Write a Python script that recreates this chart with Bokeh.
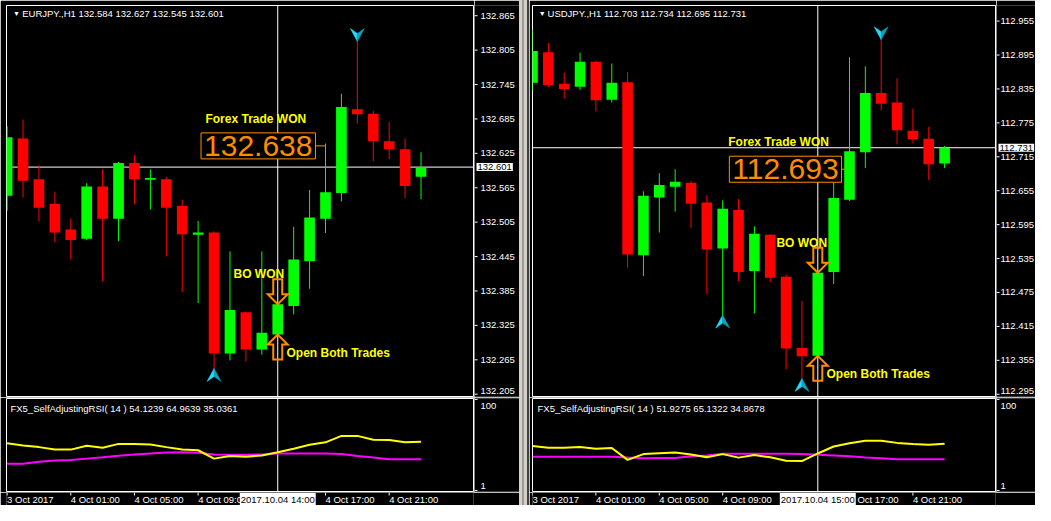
from bokeh.plotting import figure
from bokeh.models import Range1d, Label, Span, Div, ColumnDataSource
from bokeh.layouts import row, column
from bokeh.embed import file_html
from bokeh.resources import INLINE
from bokeh.core.properties import value

FONT = "Liberation Sans"
GREEN = "#00ff00"
RED = "#ff0000"
YELLOW = "#ffff00"
MAGENTA = "#ff00ff"
ORANGE = "#ff8c00"
CYAN = "#22ddff"
CYAN_DARK = "#0fa3bd"

bars = list(range(27))

# ---------------- EURJPY H1 ----------------
eur_open = [132.551, 132.651, 132.580, 132.537, 132.492, 132.476, 132.567, 132.511, 132.608,
            132.579, 132.580, 132.533, 132.483, 132.487, 132.276, 132.348, 132.283, 132.309,
            132.359, 132.437, 132.511, 132.556, 132.702, 132.694, 132.646, 132.632, 132.584]
eur_high = [132.672, 132.684, 132.604, 132.558, 132.511, 132.573, 132.597, 132.610, 132.622,
            132.597, 132.584, 132.544, 132.507, 132.489, 132.454, 132.349, 132.454, 132.363,
            132.497, 132.561, 132.642, 132.729, 132.820, 132.699, 132.680, 132.651, 132.627]
eur_low = [132.525, 132.548, 132.506, 132.470, 132.440, 132.474, 132.402, 132.472, 132.536,
           132.527, 132.445, 132.383, 132.364, 132.250, 132.264, 132.262, 132.274, 132.308,
           132.344, 132.389, 132.486, 132.541, 132.677, 132.611, 132.615, 132.547, 132.545]
eur_close = [132.653, 132.577, 132.530, 132.487, 132.474, 132.567, 132.511, 132.608, 132.580,
             132.582, 132.530, 132.484, 132.487, 132.276, 132.352, 132.283, 132.312, 132.362,
             132.440, 132.513, 132.557, 132.706, 132.693, 132.646, 132.632, 132.568, 132.601]
eur_rsi = [52.4, 50.0, 48.2, 45.5, 45.5, 49.6, 47.6, 51.7, 51.7, 51.0, 48.2, 45.5, 44.8, 35.7,
           38.5, 37.8, 39.2, 42.7, 46.5, 50.7, 53.4, 60.4, 60.4, 56.2, 55.9, 53.5, 54.1]
eur_rsi_lower = [30.2, 30.2, 32.3, 33.7, 34.3, 35.7, 37.1, 38.9, 40.3, 41.3, 42.3, 42.7, 42.0,
                 40.3, 39.9, 39.9, 40.3, 41.3, 41.3, 41.3, 41.3, 40.6, 38.5, 36.8, 35.0, 35.0, 35.0]
eur_price_ticks = [132.205, 132.265, 132.325, 132.385, 132.445, 132.505, 132.565, 132.625,
                   132.685, 132.745, 132.805, 132.865]
eur_up_signals = [13]
eur_down_signals = [22]

# ---------------- USDJPY H1 ----------------
usd_open = [112.846, 112.900, 112.844, 112.839, 112.883, 112.816, 112.847, 112.541, 112.643,
            112.662, 112.669, 112.634, 112.553, 112.621, 112.513, 112.577, 112.503, 112.377,
            112.363, 112.511, 112.639, 112.723, 112.828, 112.811, 112.761, 112.747, 112.703]
usd_high = [112.940, 112.916, 112.864, 112.899, 112.885, 112.880, 112.865, 112.654, 112.686,
            112.693, 112.672, 112.647, 112.638, 112.640, 112.592, 112.578, 112.507, 112.460,
            112.512, 112.698, 112.891, 112.875, 112.922, 112.854, 112.800, 112.768, 112.734]
usd_low = [112.832, 112.838, 112.818, 112.833, 112.795, 112.811, 112.519, 112.504, 112.581,
           112.618, 112.589, 112.472, 112.435, 112.495, 112.438, 112.493, 112.339, 112.323,
           112.362, 112.490, 112.637, 112.695, 112.797, 112.737, 112.739, 112.674, 112.695]
usd_close = [112.902, 112.842, 112.835, 112.883, 112.815, 112.846, 112.542, 112.646, 112.665,
             112.671, 112.632, 112.551, 112.623, 112.511, 112.579, 112.501, 112.376, 112.362,
             112.510, 112.642, 112.725, 112.828, 112.809, 112.762, 112.746, 112.702, 112.731]
usd_rsi = [49.3, 47.6, 47.6, 48.2, 46.5, 47.2, 34.3, 40.6, 41.6, 42.3, 40.3, 37.1, 40.6, 36.8,
           39.6, 37.1, 33.3, 33.0, 41.3, 48.9, 52.4, 55.2, 55.2, 52.8, 51.7, 50.7, 51.9]
usd_rsi_lower = [37.8, 37.8, 37.8, 37.8, 37.8, 37.8, 36.8, 36.1, 36.4, 36.4, 38.2, 39.2, 40.9,
                 40.9, 40.9, 40.9, 40.9, 40.6, 39.9, 39.2, 38.2, 36.8, 36.1, 35.0, 35.0, 34.9, 34.9]
usd_price_ticks = [112.295, 112.355, 112.415, 112.475, 112.535, 112.595, 112.655, 112.715,
                   112.775, 112.835, 112.895, 112.955]
usd_up_signals = [12, 17]
usd_down_signals = [22]

time_tick_bars = [0, 4, 8, 12, 20, 24]
time_tick_labels = ["3 Oct 2017", "4 Oct 01:00", "4 Oct 05:00", "4 Oct 09:00",
                    "4 Oct 17:00", "4 Oct 21:00"]
rsi_ticks = [1, 100]
rsi_tick_labels = ["1", "100"]
RSI_RANGE = (0, 101)

MAIN_H = 397      # 5 top border + 391 frame + 1 bottom
RSI_H = 95        # 1 + 93 + 1
TIME_H = 13
BODY_W = 0.67


def blank_fig(**kw):
    f = figure(toolbar_location=None, output_backend="svg", x_axis_location=None,
               y_axis_location=None, background_fill_color="black", border_fill_color="black",
               **kw)
    f.xgrid.grid_line_color = None
    f.ygrid.grid_line_color = None
    return f


def label(fig, x, y, text, color="white", size="9.5px", bold=False, align="left",
          baseline="middle", **kw):
    fig.add_layout(Label(x=x, y=y, text=text, text_color=color, text_font=FONT,
                         text_font_size=size, text_font_style="bold" if bold else "normal",
                         text_align=align, text_baseline=baseline, **kw))


def gtext(fig, xs, ys, texts, size="9.5px", align="left"):
    fig.text(x=xs, y=ys, text=texts, text_color="white", text_font=value(FONT),
             text_font_size=value(size), text_align=align, text_baseline="middle")


def build_window(cfg):
    lb, fw, sw = cfg["lb"], cfg["frame_w"], cfg["strip_w"]
    cw = lb + fw + 1
    xr = Range1d(cfg["x_start"], cfg["x_start"] + fw / cfg["bar_px"])
    yr = Range1d(*cfg["y_range"])
    ppx = cfg["bar_px"]
    ppy = (MAIN_H - 6) / (yr.end - yr.start)
    dx, dy = 1.0 / ppx, 1.0 / ppy
    o, h, l, c = cfg["open"], cfg["high"], cfg["low"], cfg["close"]
    e = cfg["entry"]

    # ---------- main price chart ----------
    p = blank_fig(width=cw, height=MAIN_H, x_range=xr, y_range=yr, min_border_left=lb,
                  min_border_right=1, min_border_top=5, min_border_bottom=1,
                  outline_line_color="white", outline_line_width=1)
    p.add_layout(Span(location=c[-1], dimension="width", line_color="white",
                      line_width=1, level="underlay"))
    p.add_layout(Span(location=e, dimension="height", line_color="white",
                      line_width=1, level="underlay"))
    p.segment(x0=[cfg["box_x"]], y0=[cfg["box_price"]], x1=[20], y1=[cfg["box_price"]],
              line_color=ORANGE, line_width=1)

    colors = [GREEN if ci >= oi else RED for oi, ci in zip(o, c)]
    src = ColumnDataSource(dict(x=bars, high=h, low=l,
                                top=[max(a, b) for a, b in zip(o, c)],
                                bottom=[min(a, b) for a, b in zip(o, c)], color=colors))
    p.segment(x0="x", y0="high", x1="x", y1="low", line_color="color", line_width=1, source=src)
    p.vbar(x="x", width=BODY_W, top="top", bottom="bottom", fill_color="color",
           line_color=None, source=src)

    xs_a, ys_a, xs_b, ys_b = [], [], [], []
    for b in cfg["up"]:
        t = l[b]
        xs_a.append([b, b - 7 * dx, b]); ys_a.append([t, t - 13 * dy, t - 8 * dy])
        xs_b.append([b, b, b + 7 * dx]); ys_b.append([t, t - 8 * dy, t - 13 * dy])
    for b in cfg["down"]:
        t = h[b]
        xs_a.append([b, b - 7 * dx, b]); ys_a.append([t, t + 13 * dy, t + 8 * dy])
        xs_b.append([b, b, b + 7 * dx]); ys_b.append([t, t + 8 * dy, t + 13 * dy])
    p.patches(xs_a, ys_a, fill_color=CYAN, line_color=CYAN, line_width=0.5)
    p.patches(xs_b, ys_b, fill_color=CYAN_DARK, line_color=CYAN_DARK, line_width=0.5)

    shape = [(0, 0), (-10, 10), (-4.5, 10), (-4.5, 25), (4.5, 25), (4.5, 10), (10, 10)]
    down_x = [e + a * dx for a, b in shape]
    down_y = [c[e] + b * dy for a, b in shape]
    up_x = [e + a * dx for a, b in shape]
    up_y = [o[e] - b * dy for a, b in shape]
    p.patches([down_x, up_x], [down_y, up_y], fill_color=None, line_color=ORANGE,
              line_width=2, line_join="miter")

    label(p, cfg["tri_x"], cfg["header_y"], "\u25bc", size="7px")
    label(p, cfg["header_x"], cfg["header_y"], cfg["header"])
    label(p, cfg["fx_x"], cfg["fx_y"], "Forex Trade WON", color=YELLOW, size="12px", bold=True)
    label(p, cfg["box_x"], cfg["box_price"], cfg["box_text"], color=ORANGE, size="30px",
          align="right", border_line_color=ORANGE, border_line_width=1,
          background_fill_color="black", padding=3)
    label(p, cfg["bo_x"], cfg["bo_y"], cfg["bo_text"], color=YELLOW, size="12px", bold=True)
    label(p, cfg["ob_x"], cfg["ob_y"], "Open Both Trades", color=YELLOW, size="12px", bold=True)

    # ---------- price scale strip ----------
    ps = blank_fig(width=sw, height=MAIN_H, x_range=Range1d(0, sw), y_range=yr,
                   min_border_left=0, min_border_right=0, min_border_top=5,
                   min_border_bottom=1, outline_line_color=None)
    ticks = cfg["price_ticks"]
    ps.segment(x0=[0] * len(ticks), y0=ticks, x1=[3] * len(ticks), y1=ticks,
               line_color="white", line_width=1)
    # keep the lowest tick label fully inside the strip
    lbl_y = [max(t, yr.start + 6.0 * dy) for t in ticks]
    gtext(ps, [cfg["lbl_x"]] * len(ticks), lbl_y, ["%.3f" % t for t in ticks])
    label(ps, 2, c[-1], "%.3f" % c[-1], color="black", background_fill_color="white",
          padding=1)

    # ---------- RSI sub-window ----------
    rr = Range1d(*RSI_RANGE)
    r = blank_fig(width=cw, height=RSI_H, x_range=xr, y_range=rr, min_border_left=lb,
                  min_border_right=1, min_border_top=1, min_border_bottom=1,
                  outline_line_color="white", outline_line_width=1)
    r.add_layout(Span(location=e, dimension="height", line_color="white",
                      line_width=1, level="underlay"))
    r.line(bars, cfg["rsi_lower"], line_color=MAGENTA, line_width=2)
    r.line(bars, cfg["rsi"], line_color=YELLOW, line_width=2)
    label(r, cfg["rsi_hdr_x"], 90.5, cfg["rsi_header"])

    rppy = (RSI_H - 2) / (rr.end - rr.start)
    rs = blank_fig(width=sw, height=RSI_H, x_range=Range1d(0, sw), y_range=rr,
                   min_border_left=0, min_border_right=0, min_border_top=1,
                   min_border_bottom=1, outline_line_color=None)
    rs.segment(x0=[0, 0], y0=rsi_ticks, x1=[3, 3], y1=rsi_ticks, line_color="white")
    gtext(rs, [cfg["lbl_x"]] * 2,
          [rsi_ticks[0] + 5 / rppy, rsi_ticks[1] - 7 / rppy], rsi_tick_labels)

    # ---------- time scale strip ----------
    ts = blank_fig(width=cw + sw, height=TIME_H, x_range=xr, y_range=Range1d(0, TIME_H),
                   min_border_left=lb, min_border_right=sw + 1, min_border_top=0,
                   min_border_bottom=0, outline_line_color=None)
    ts.segment(x0=time_tick_bars, y0=[TIME_H] * len(time_tick_bars), x1=time_tick_bars,
               y1=[TIME_H - 3] * len(time_tick_bars), line_color="white")
    gtext(ts, time_tick_bars, [TIME_H / 2 - 0.5] * len(time_tick_bars), time_tick_labels)
    label(ts, e, TIME_H / 2 - 0.5, cfg["cross_time"], color="black", align="center",
          background_fill_color="white", padding=1)

    return column(row(p, ps, spacing=0), row(r, rs, spacing=0), ts, spacing=0)


left = build_window(dict(
    lb=6, frame_w=467, strip_w=45, bar_px=15.92, x_start=-0.0377,
    y_range=(132.2010, 132.8828), lbl_x=6,
    price_ticks=eur_price_ticks, open=eur_open, high=eur_high, low=eur_low, close=eur_close,
    rsi=eur_rsi, rsi_lower=eur_rsi_lower, up=eur_up_signals, down=eur_down_signals,
    entry=17, cross_time="2017.10.04 14:00",
    header="EURJPY.,H1  132.584 132.627 132.545 132.601", header_x=0.95, tri_x=0.37,
    header_y=132.869,
    fx_x=12.46, fx_y=132.6856, box_x=19.37, box_price=132.638, box_text="132.638",
    bo_x=14.22, bo_y=132.4139, bo_text="BO  WON", ob_x=17.55, ob_y=132.276,
    rsi_header="FX5_SelfAdjustingRSI( 14 ) 54.1239 64.9639 35.0361", rsi_hdr_x=0.21,
))

right = build_window(dict(
    lb=3, frame_w=463, strip_w=39, bar_px=15.85, x_start=0.0,
    y_range=(112.2910, 112.9826), lbl_x=4,
    price_ticks=usd_price_ticks, open=usd_open, high=usd_high, low=usd_low, close=usd_close,
    rsi=usd_rsi, rsi_lower=usd_rsi_lower, up=usd_up_signals, down=usd_down_signals,
    entry=18, cross_time="2017.10.04 15:00",
    header="USDJPY.,H1  112.703 112.734 112.695 112.731", header_x=0.95, tri_x=0.40,
    header_y=112.9685,
    fx_x=12.35, fx_y=112.7416, box_x=19.50, box_price=112.693, box_text="112.693",
    bo_x=15.39, bo_y=112.563, bo_text="BO WON", ob_x=18.55, ob_y=112.330,
    rsi_header="FX5_SelfAdjustingRSI( 14 ) 51.9275 65.1322 34.8678", rsi_hdr_x=0.32,
))

sep = Div(text="", width=10, height=505, margin=0, styles={
    "background": "linear-gradient(to right, #d4d0c8 0px, #d4d0c8 3px, #9a9a9a 3px, "
                  "#9a9a9a 5px, #d4d0c8 5px, #d4d0c8 8px, #404040 8px, #404040 10px)"})

page = row(left, sep, right, spacing=0)

open("out.html", "w").write(file_html(page, INLINE))
